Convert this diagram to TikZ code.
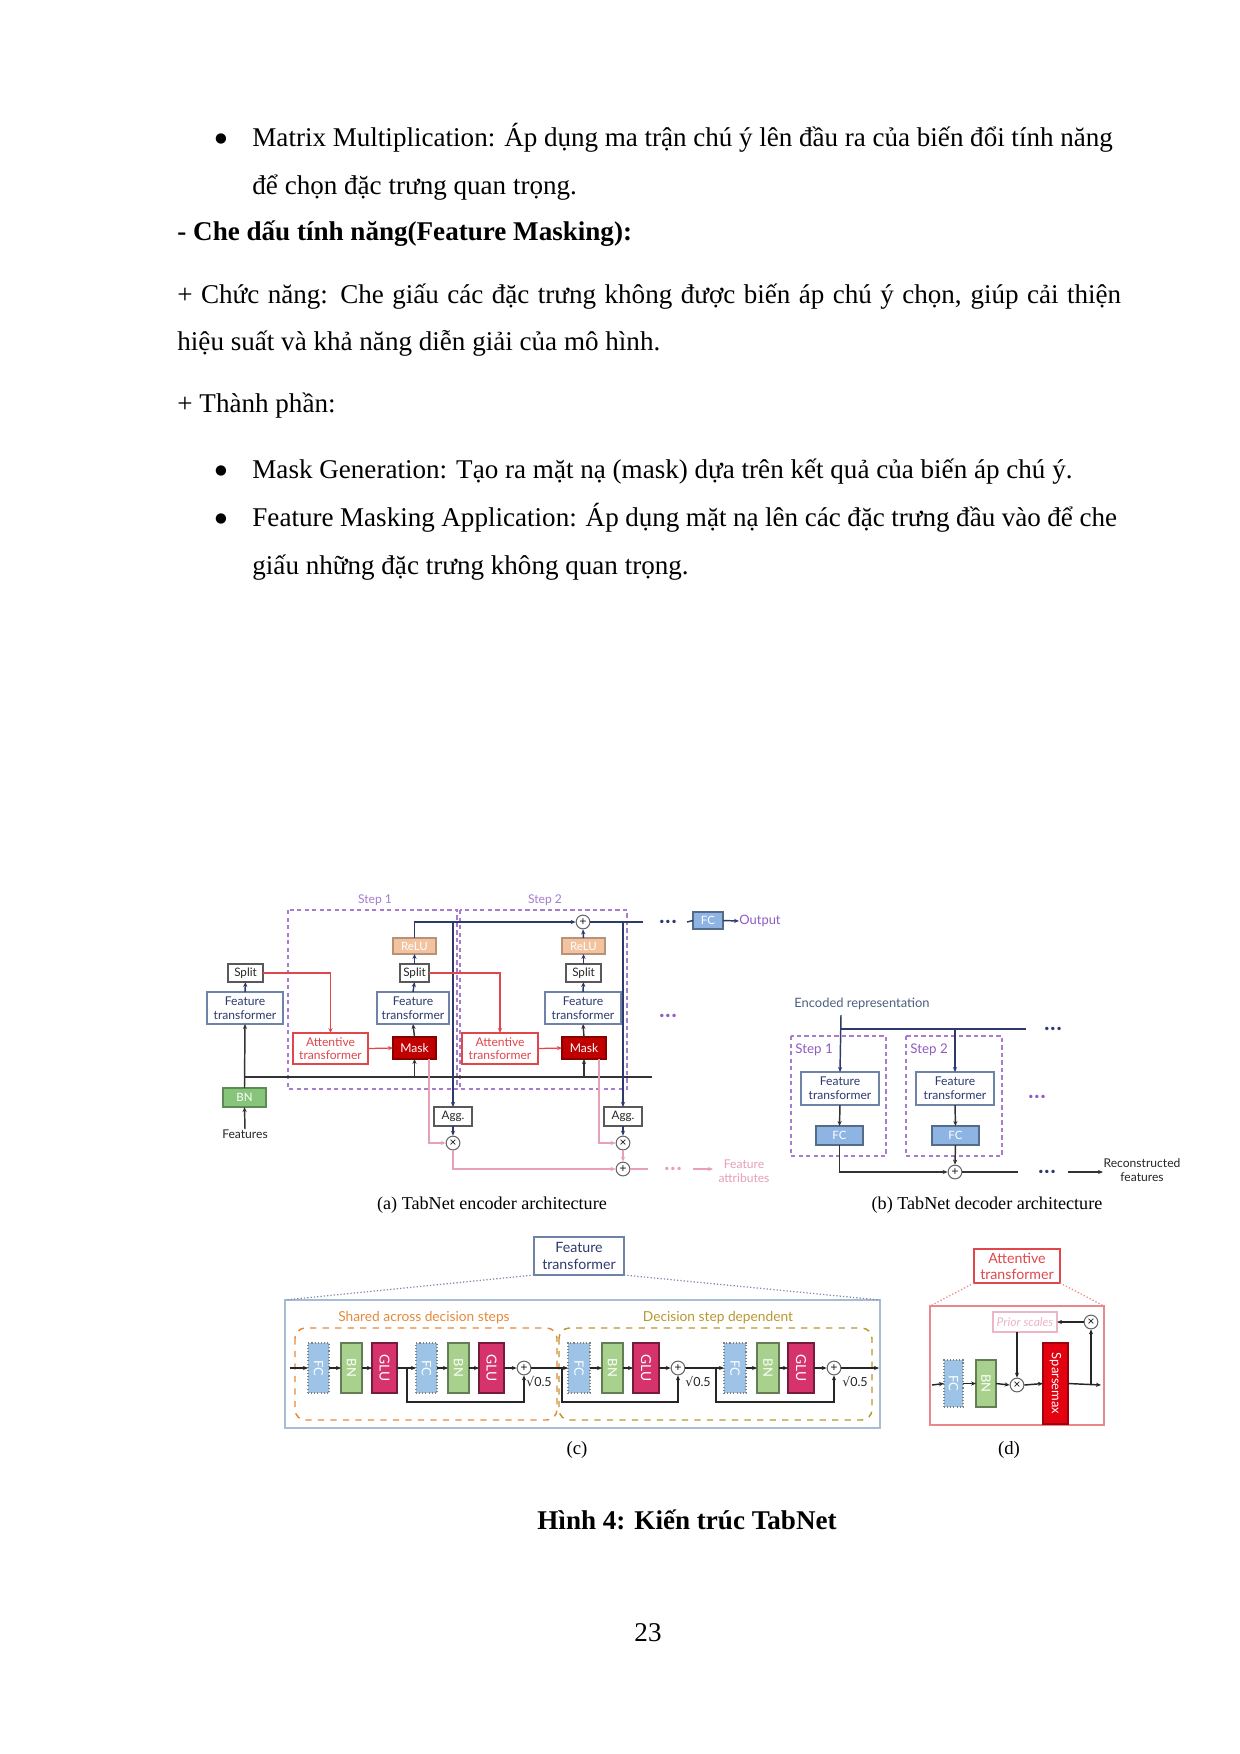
\documentclass[tikz,border=0pt]{standalone}
\usepackage{fontspec}
\usepackage{graphicx}
\setmainfont{Liberation Serif}
\newfontfamily\dfont{Lato}
\newfontfamily\djv{DejaVu Sans}
\usetikzlibrary{arrows.meta}
\definecolor{navy}{HTML}{2E3A6E}
\definecolor{ftc}{HTML}{6F82A8}
\definecolor{stepc}{HTML}{A77BCF}
\definecolor{redc}{HTML}{E0474C}
\definecolor{maskc}{HTML}{C00000}
\definecolor{reluc}{HTML}{F3C3A0}
\definecolor{bnc}{HTML}{86C57A}
\definecolor{fcc}{HTML}{8EB4E3}
\definecolor{pinkc}{HTML}{E8A0B6}
\definecolor{outc}{HTML}{8E5CC2}
\definecolor{encc}{HTML}{4B5F7E}
\definecolor{orc}{HTML}{E58A3C}
\definecolor{olc}{HTML}{B8982F}
\definecolor{cfcc}{HTML}{9DC3E6}
\definecolor{cbnc}{HTML}{A9D18E}
\definecolor{gluc}{HTML}{D6336C}
\definecolor{bigc}{HTML}{A9BCD6}
\definecolor{salc}{HTML}{E8888A}
\definecolor{prc}{HTML}{EBB6C6}
\definecolor{spc}{HTML}{E3000F}
\newcommand\pbox[7]{\node[#6, minimum width={(#4-#2)*0.48pt}, minimum height={(#5-#3)*0.48pt}] (#1) at ({(#2+#4)/2},{(#3+#5)/2}) {#7};}
\newcommand\vt[1]{\rotatebox{-90}{#1}}
\begin{document}
\begin{tikzpicture}[x=0.48pt,y=-0.48pt,
  body/.style={anchor=base west, inner sep=0pt, font=\rmfamily\fontsize{13}{16}\selectfont},
  bul/.style={anchor=center, inner sep=0pt, font=\djv\fontsize{6.5}{7}\selectfont},
  capt/.style={inner sep=0pt, font=\rmfamily\fontsize{8.7}{10}\selectfont},
  bx/.style={draw, inner sep=0pt, outer sep=0pt, align=center, line width=0.5pt},
  lbl/.style={inner sep=0pt, align=center, font=\dfont\fontsize{5.8}{6.6}\selectfont},
  ft/.style={bx, draw=ftc, fill=white, text=navy, font=\dfont\fontsize{5.8}{6.6}\selectfont},
  sp/.style={bx, draw=black!65, fill=white, text=black!85, font=\dfont\fontsize{5.6}{6.6}\selectfont},
  atb/.style={bx, draw=redc, fill=white, text=redc, font=\dfont\fontsize{5.8}{6.6}\selectfont},
  mk/.style={bx, draw=maskc!70!black, fill=maskc, text=white, font=\dfont\fontsize{5.8}{6.6}\selectfont},
  relu/.style={bx, draw=reluc!75!black, fill=reluc, text=white, font=\dfont\fontsize{5.5}{6.5}\selectfont},
  bn/.style={bx, draw=bnc!70!black, fill=bnc, text=white, font=\dfont\fontsize{5.5}{6.5}\selectfont},
  fc/.style={bx, draw=fcc!60!black, fill=fcc, text=white, font=\dfont\fontsize{5.5}{6.5}\selectfont},
  cfc/.style={bx, draw=black!50, densely dotted, fill=cfcc, text=white, font=\dfont\fontsize{6.2}{7}\selectfont},
  cbn/.style={bx, draw=cbnc!60!black, fill=cbnc, text=white, font=\dfont\fontsize{6.2}{7}\selectfont},
  cglu/.style={bx, draw=gluc!55!black, fill=gluc, text=white, font=\dfont\fontsize{6.6}{7}\selectfont},
  sparse/.style={bx, draw=spc!70!black, fill=spc, text=white, font=\dfont\fontsize{6.2}{7}\selectfont},
  circ/.style={circle, draw=black!60, fill=white, minimum size=6.6pt, inner sep=0pt, line width=0.5pt, font=\djv\fontsize{4.5}{4.5}\selectfont},
  arr/.style={-{Stealth[length=2.4pt,width=2pt]}},
  nv/.style={draw=navy, line width=0.7pt},
  bk/.style={draw=black!80, line width=0.7pt},
  cl/.style={draw=black!85, line width=0.7pt},
  rd/.style={draw=redc, line width=0.6pt},
  pk/.style={draw=pinkc, line width=0.6pt},
  stepbox/.style={draw=stepc, dash pattern=on 2pt off 1.6pt, line width=0.6pt},
  dotsty/.style={inner sep=0pt, font=\djv\bfseries\fontsize{4.6}{5}\selectfont}
]
\fill[white] (0,0) rectangle (1240,1754);
\useasboundingbox (0,0) rectangle (1240,1754);

% ---------------- body text ----------------
\node[bul] (b1) at (221,139) {●};
\node[body] (t1) at (252,146) {\makebox[413pt][s]{Matrix Multiplication: Áp dụng ma trận chú ý lên đầu ra của biến đổi tính năng}};
\node[body] (t2) at (252,194) {để chọn đặc trưng quan trọng.};
\node[body] (t3) at (177,240) {\bfseries - Che dấu tính năng(Feature Masking):};
\node[body] (t4) at (177,303) {\makebox[453pt][s]{+ Chức năng: Che giấu các đặc trưng không được biến áp chú ý chọn, giúp cải thiện}};
\node[body] (t5) at (177,350) {hiệu suất và khả năng diễn giải của mô hình.};
\node[body] (t6) at (177,412) {+ Thành phần:};
\node[bul] (b2) at (221,471) {●};
\node[body] (t7) at (252,478) {Mask Generation: Tạo ra mặt nạ (mask) dựa trên kết quả của biến áp chú ý.};
\node[bul] (b3) at (221,519) {●};
\node[body] (t8) at (252,526) {\makebox[415pt][s]{Feature Masking Application: Áp dụng mặt nạ lên các đặc trưng đầu vào để che}};
\node[body] (t9) at (252,574) {giấu những đặc trưng không quan trọng.};

% ---------------- (a) encoder ----------------
\draw[stepbox] (288,910) rectangle (457,1089);
\draw[stepbox] (460,910) rectangle (627,1089);
\node[lbl, text=stepc] (s1lab) at (375,900) {Step 1};
\node[lbl, text=stepc] (s2lab) at (545,900) {Step 2};

\coordinate (busL) at (245,1077);
\coordinate (busR) at (652,1077);
\draw[bk] (busL) -- (busR);

\pbox{splitL}{228}{964}{263}{982}{sp}{Split}
\pbox{ftL}{207}{992}{283}{1024}{ft}{Feature\\transformer}
\pbox{bnL}{223}{1088}{266}{1107}{bn}{BN}
\node[lbl, text=black!85] (feat) at (245,1134) {Features};
\pbox{attn1}{293}{1033}{368}{1064}{atb}{Attentive\\transformer}
\pbox{mask1}{393}{1037}{436}{1059}{mk}{Mask}
\pbox{ft1}{377}{992}{449}{1024}{ft}{Feature\\transformer}
\pbox{split1}{400}{964}{429}{982}{sp}{Split}
\pbox{relu1}{393}{938}{436}{954}{relu}{ReLU}
\pbox{attn2}{462}{1033}{538}{1064}{atb}{Attentive\\transformer}
\pbox{mask2}{562}{1037}{606}{1059}{mk}{Mask}
\pbox{ft2}{545}{992}{621}{1024}{ft}{Feature\\transformer}
\pbox{split2}{566}{964}{601}{982}{sp}{Split}
\pbox{relu2}{562}{938}{605}{954}{relu}{ReLU}
\pbox{agg1}{434}{1107}{472}{1126}{sp}{Agg.}
\pbox{agg2}{604}{1107}{642}{1126}{sp}{Agg.}
\node[circ] (ptop) at (583,922) {+};
\node[circ] (x1) at (453,1143) {×};
\node[circ] (x2) at (623,1143) {×};
\node[circ] (pb) at (623,1169) {+};
\pbox{fco}{693}{912}{723}{929}{fc}{FC}
\node[lbl, text=outc, anchor=west, font=\dfont\fontsize{6.2}{7}\selectfont] (outp) at (739,921) {Output};
\node[dotsty, text=navy] (dtop) at (668,923) {•••};
\node[dotsty, text=outc] (dmid) at (668,1017) {•••};
\node[dotsty, text=pinkc] (dbot) at (673,1170) {•••};
\node[lbl, text=pinkc] (fattr) at (744,1171) {Feature\\attributes};
\coordinate (topR) at (643,922);
\coordinate (fcin) at (687,922);
\coordinate (pbR) at (648,1169);
\coordinate (fa1) at (693,1169);
\coordinate (fa2) at (713,1169);

\draw[bk,arr] (feat.north) -- (bnL.south);
\draw[bk,arr] (bnL.north) -- (ftL.south);
\draw[nv,arr] (ftL.north) -- (splitL.south);
\draw[rd,arr] (splitL.east) -| (attn1.north);
\draw[rd,arr] (attn1.east) -- (mask1.west);
\draw[bk,arr] (mask1.south |- busL) -- (mask1.south);
\draw[bk,arr] (mask1.north) -- (ft1.south);
\draw[nv,arr] (ft1.north) -- (split1.south);
\draw[nv,arr] (split1.north) -- (relu1.south);
\draw[nv,arr] (relu1.north) |- (ptop.west);
\draw[nv] (ptop.east) -- (topR);
\draw[nv,arr] (agg1.north |- ptop) -- (agg1.north);
\draw[nv,arr] (agg2.north |- ptop) -- (agg2.north);
\draw[rd,arr] (split1.east) -| (attn2.north);
\draw[rd,arr] (attn2.east) -- (mask2.west);
\draw[bk,arr] (mask2.south |- busL) -- (mask2.south);
\draw[bk,arr] (mask2.north) -- (ft2.south);
\draw[nv,arr] (ft2.north) -- (split2.south);
\draw[nv,arr] (split2.north) -- (relu2.south);
\draw[nv,arr] (relu2.north) -- (ptop.south);
\draw[pk,arr] ([xshift=-3.4pt]mask1.south east) |- (x1.west);
\draw[nv,arr] (agg1.south) -- (x1.north);
\draw[pk,arr] (x1.south) |- (pb.west);
\draw[pk,arr] ([xshift=-3.4pt]mask2.south east) |- (x2.west);
\draw[nv,arr] (agg2.south) -- (x2.north);
\draw[pk,arr] (x2.south) -- (pb.north);
\draw[pk] (pb.east) -- (pbR);
\draw[pk,arr] (fa1) -- (fa2);
\draw[nv] (fcin) -- (fco.west);
\draw[nv,arr] (fco.east) -- (outp.west);
\node[capt] (capa) at (492,1205) {(a) TabNet encoder architecture};

% ---------------- (b) decoder ----------------
\node[lbl, text=encc, font=\dfont\fontsize{6.2}{7}\selectfont] (enc) at (862,1004) {Encoded representation};
\draw[stepbox] (791,1036) rectangle (886,1156);
\draw[stepbox] (906,1036) rectangle (1002,1156);
\node[lbl, text=outc, anchor=west, font=\dfont\fontsize{6.4}{7}\selectfont] (ds1) at (795,1050) {Step 1};
\node[lbl, text=outc, anchor=west, font=\dfont\fontsize{6.4}{7}\selectfont] (ds2) at (910,1050) {Step 2};
\pbox{dft1}{801}{1072}{879}{1105}{ft}{Feature\\transformer}
\pbox{dft2}{916}{1072}{994}{1105}{ft}{Feature\\transformer}
\pbox{dfc1}{816}{1126}{863}{1145}{fc}{FC}
\pbox{dfc2}{932}{1126}{979}{1145}{fc}{FC}
\node[circ] (dp) at (955,1172) {+};
\coordinate (dtopA) at (841,1015);
\coordinate (dbus) at (841,1029);
\coordinate (dbusR) at (1026,1029);
\coordinate (dpR) at (1018,1172);
\coordinate (rf1) at (1068,1172);
\coordinate (rf2) at (1103,1172);
\node[dotsty, text=navy] (ddt) at (1053,1030) {•••};
\node[dotsty, text=outc] (ddm) at (1037,1098) {•••};
\node[dotsty, text=navy] (ddb) at (1047,1173) {•••};
\node[lbl, text=black!85] (recf) at (1142,1170) {Reconstructed\\features};
\draw[nv,arr] (dtopA) -- (dft1.north);
\draw[nv] (dbus) -- (dbusR);
\draw[nv,arr] (dft2.north |- dbus) -- (dft2.north);
\draw[bk,arr] (dft1.south) -- (dfc1.north);
\draw[bk,arr] (dft2.south) -- (dfc2.north);
\draw[bk,arr] (dfc1.south) |- (dp.west);
\draw[bk,arr] (dfc2.south) -- (dp.north);
\draw[bk] (dp.east) -- (dpR);
\draw[bk,arr] (rf1) -- (rf2);
\node[capt] (capb) at (987,1205) {(b) TabNet decoder architecture};

% ---------------- (c) feature transformer ----------------
\pbox{ftcb}{534}{1237}{624}{1275}{ft, font=\dfont\fontsize{6.8}{7.8}\selectfont}{Feature\\transformer}
\draw[bigc, line width=0.8pt] (285,1300) rectangle (880,1428);
\draw[navy!60, densely dotted, line width=0.6pt] (ftcb.south west) -- (285,1300);
\draw[navy!60, densely dotted, line width=0.6pt] (ftcb.south east) -- (880,1300);
\draw[orc, dashed, line width=0.7pt, rounded corners=5pt] (295,1328) rectangle (557,1420);
\draw[olc, dashed, line width=0.7pt, rounded corners=5pt] (559,1328) rectangle (872,1420);
\node[lbl, text=orc, font=\dfont\fontsize{6.6}{7}\selectfont] (shr) at (424,1318) {Shared across decision steps};
\node[lbl, text=olc, font=\dfont\fontsize{6.6}{7}\selectfont] (dsd) at (718,1318) {Decision step dependent};

\pbox{cfc1}{308}{1343}{329}{1393}{cfc}{\vt{FC}}
\pbox{cbn1}{341}{1343}{362}{1393}{cbn}{\vt{BN}}
\pbox{cglu1}{372}{1343}{397}{1393}{cglu}{\vt{GLU}}
\pbox{cfc2}{416}{1343}{437}{1393}{cfc}{\vt{FC}}
\pbox{cbn2}{448}{1343}{469}{1393}{cbn}{\vt{BN}}
\pbox{cglu2}{479}{1343}{504}{1393}{cglu}{\vt{GLU}}
\node[circ] (cp1) at (524,1368) {+};
\pbox{cfc3}{568}{1343}{590}{1393}{cfc}{\vt{FC}}
\pbox{cbn3}{602}{1343}{623}{1393}{cbn}{\vt{BN}}
\pbox{cglu3}{633}{1343}{659}{1393}{cglu}{\vt{GLU}}
\node[circ] (cp2) at (678,1368) {+};
\pbox{cfc4}{724}{1343}{746}{1393}{cfc}{\vt{FC}}
\pbox{cbn4}{757}{1343}{779}{1393}{cbn}{\vt{BN}}
\pbox{cglu4}{788}{1343}{814}{1393}{cglu}{\vt{GLU}}
\node[circ] (cp3) at (834,1368) {+};
\node[lbl, text=black!85, font=\dfont\fontsize{6}{7}\selectfont] (r1) at (539,1382) {{\djv √}0.5};
\node[lbl, text=black!85, font=\dfont\fontsize{6}{7}\selectfont] (r2) at (698,1382) {{\djv √}0.5};
\node[lbl, text=black!85, font=\dfont\fontsize{6}{7}\selectfont] (r3) at (855,1382) {{\djv √}0.5};
\coordinate (cin) at (290,1368);
\coordinate (cout) at (879,1368);
\coordinate (sk1) at (407,1368);
\coordinate (sk2) at (562,1368);
\coordinate (sk3) at (716,1368);
\draw[cl,arr] (cin) -- (cfc1.west);
\draw[cl,arr] (cfc1.east) -- (cbn1.west);
\draw[cl,arr] (cbn1.east) -- (cglu1.west);
\draw[cl,arr] (cglu1.east) -- (cfc2.west);
\draw[cl,arr] (cfc2.east) -- (cbn2.west);
\draw[cl,arr] (cbn2.east) -- (cglu2.west);
\draw[cl,arr] (cglu2.east) -- (cp1.west);
\draw[cl,arr] (cp1.east) -- (cfc3.west);
\draw[cl,arr] (cfc3.east) -- (cbn3.west);
\draw[cl,arr] (cbn3.east) -- (cglu3.west);
\draw[cl,arr] (cglu3.east) -- (cp2.west);
\draw[cl,arr] (cp2.east) -- (cfc4.west);
\draw[cl,arr] (cfc4.east) -- (cbn4.west);
\draw[cl,arr] (cbn4.east) -- (cglu4.west);
\draw[cl,arr] (cglu4.east) -- (cp3.west);
\draw[cl,arr] (cp3.east) -- (cout);
\draw[cl,arr] (sk1) -- ++(0,34) -| (cp1.south);
\draw[cl,arr] (sk2) -- ++(0,34) -| (cp2.south);
\draw[cl,arr] (sk3) -- ++(0,34) -| (cp3.south);
\node[capt, font=\rmfamily\fontsize{9}{10}\selectfont] (capc) at (577,1450) {(c)};

% ---------------- (d) attentive transformer ----------------
\pbox{atcb}{974}{1249}{1060}{1283}{atb, font=\dfont\fontsize{6.8}{7.8}\selectfont}{Attentive\\transformer}
\draw[salc, line width=0.8pt] (930,1306) rectangle (1104,1425);
\draw[salc, densely dotted, line width=0.6pt] (atcb.south west) -- (930,1306);
\draw[salc, densely dotted, line width=0.6pt] (atcb.south east) -- (1104,1306);
\pbox{prior}{993}{1312}{1057}{1332}{bx, draw=prc, text=prc, font=\dfont\itshape\fontsize{5.8}{7}\selectfont}{Prior scales}
\node[circ] (xt) at (1091,1322) {×};
\pbox{dfc}{944}{1360}{963}{1407}{cfc}{\vt{FC}}
\pbox{dbn}{976}{1360}{996}{1407}{cbn}{\vt{BN}}
\node[circ] (xm) at (1017,1385) {×};
\pbox{spm}{1043}{1343}{1068}{1424}{sparse}{\vt{Sparsemax}}
\coordinate (din) at (932,1385);
\coordinate (dout) at (1101,1385);
\coordinate (dbr) at (1091,1385);
\draw[cl,arr] (din) -- (dfc.west);
\draw[cl,arr] (dfc.east) -- (dbn.west);
\draw[cl,arr] (dbn.east) -- (xm.west);
\draw[cl,arr] (xm.east) -- (spm.west);
\draw[cl,arr] (spm.east) -- (dout);
\draw[cl,arr] (dbr) -- (xt.south);
\draw[cl,arr] (xt.west) -- (prior.east);
\draw[cl,arr] (xm.north |- prior.south) -- (xm.north);
\node[capt, font=\rmfamily\fontsize{9}{10}\selectfont] (capd) at (1009,1450) {(d)};

% ---------------- caption & page number ----------------
\node[body, anchor=base] (fig) at (687,1529) {\bfseries Hình 4: Kiến trúc TabNet};
\node[body, anchor=base] (pg) at (648,1641) {23};
\end{tikzpicture}
\end{document}
